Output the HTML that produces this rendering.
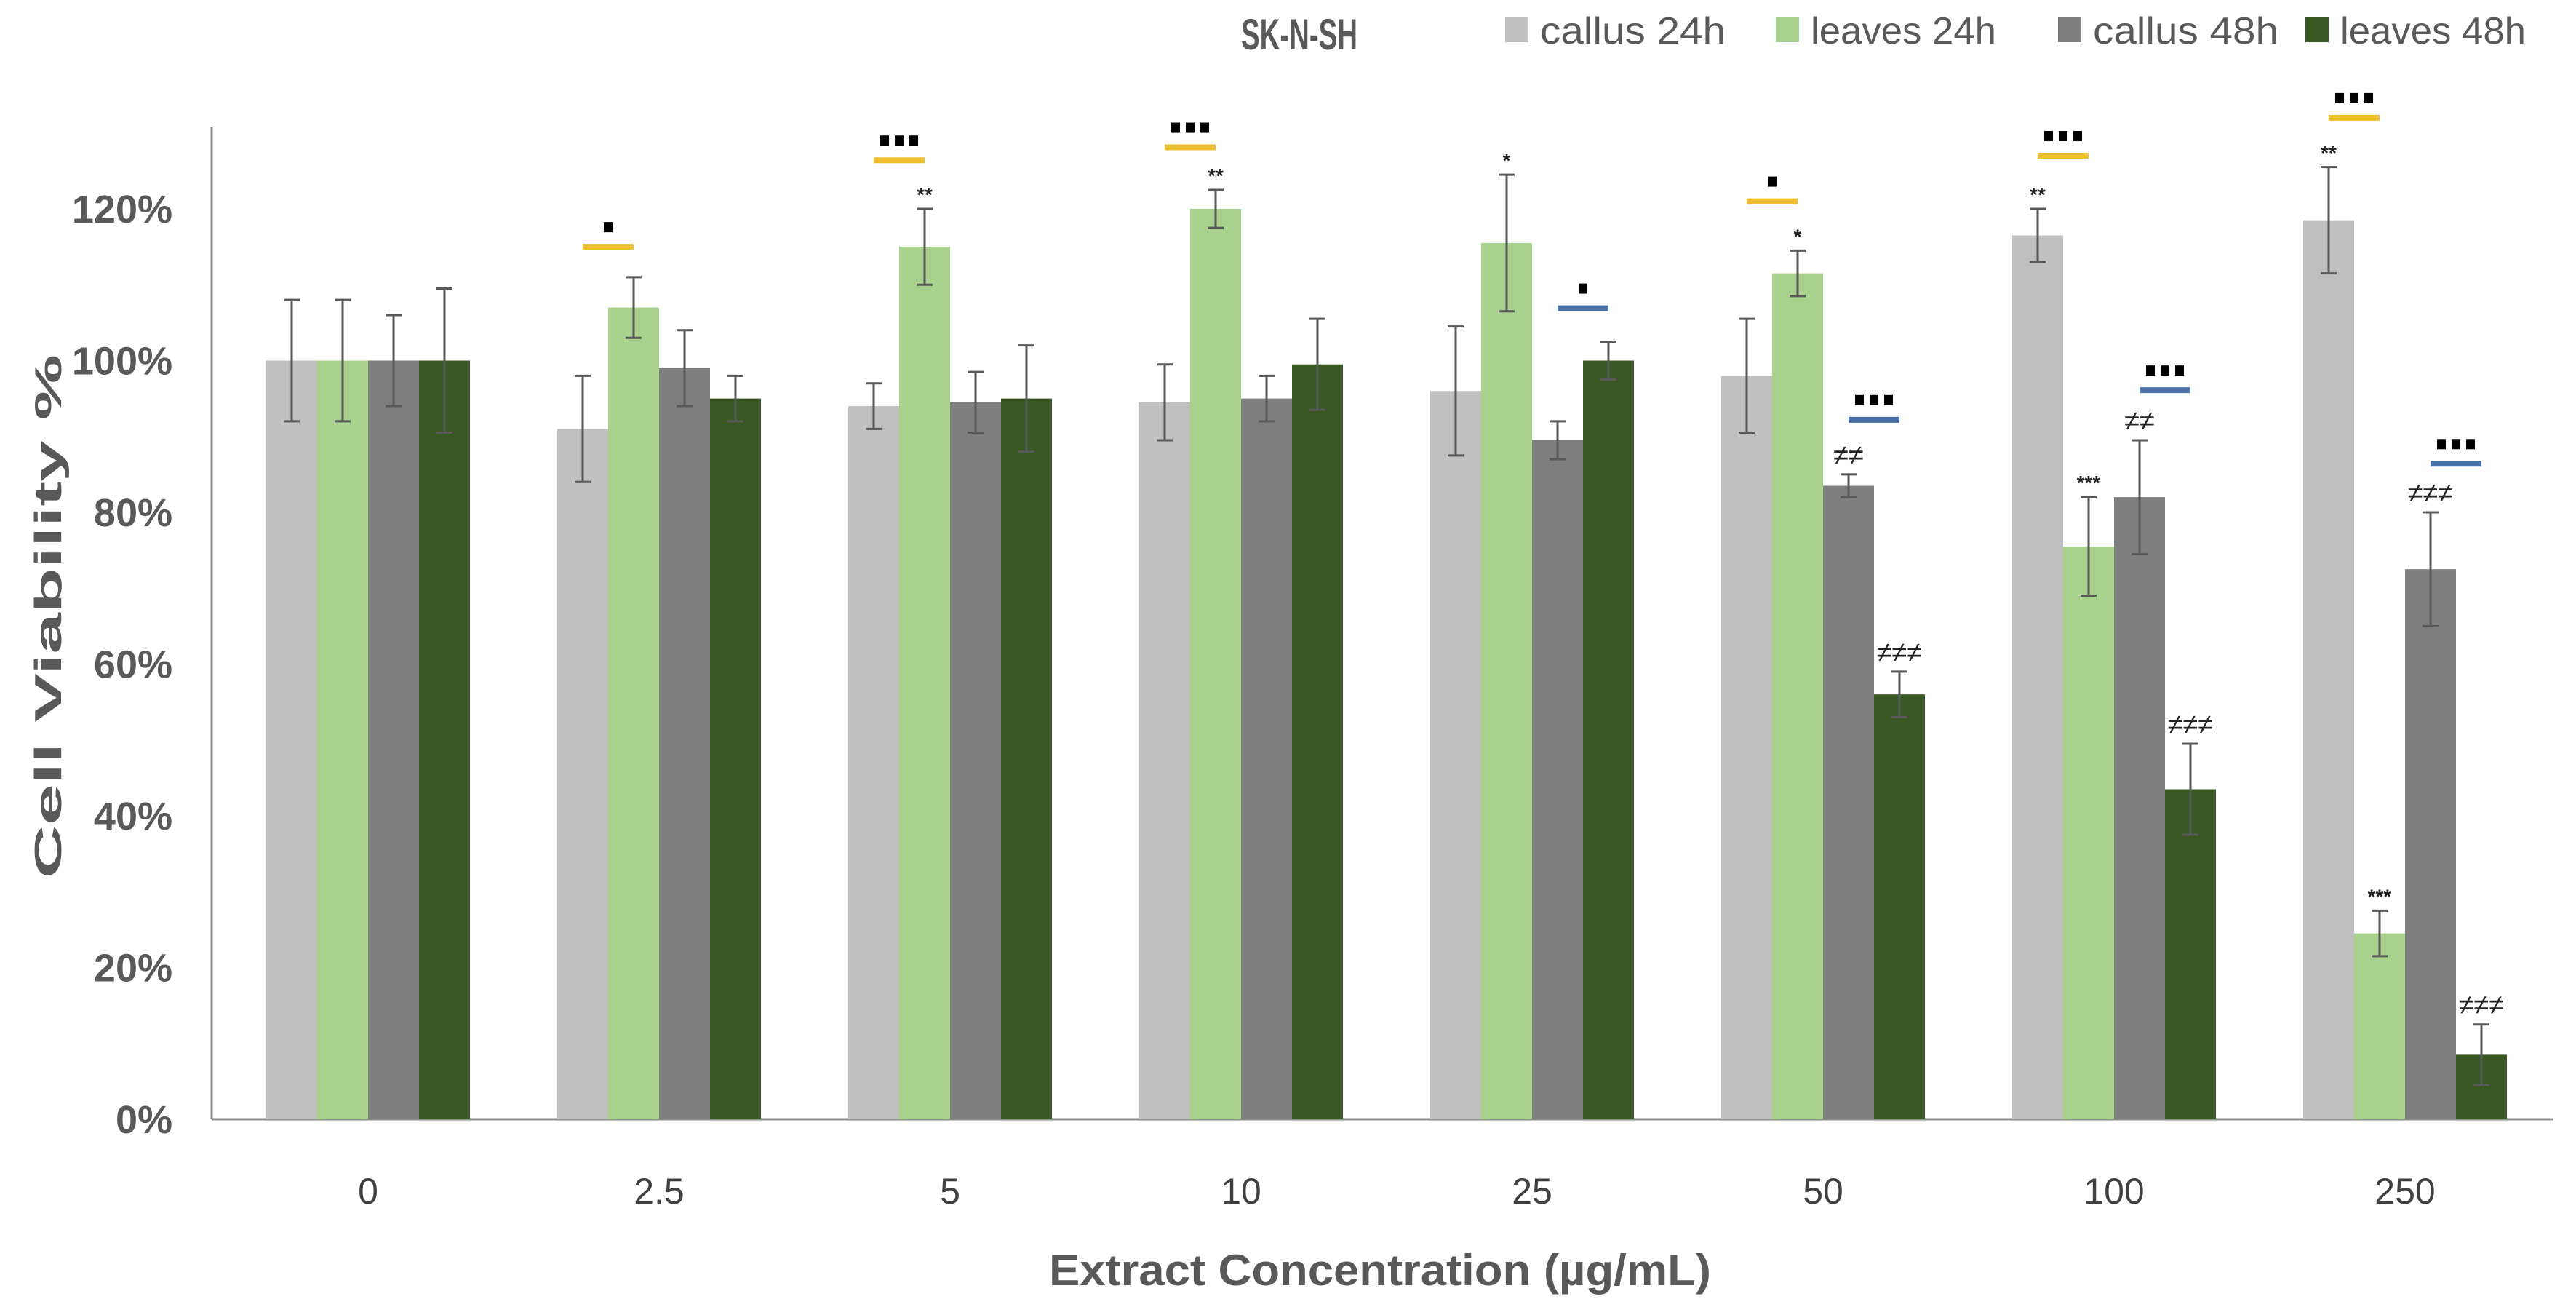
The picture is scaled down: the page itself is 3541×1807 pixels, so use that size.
<!DOCTYPE html>
<html><head><meta charset="utf-8"><style>
html,body{margin:0;padding:0;background:#fff}
svg{display:block}
text{font-family:"Liberation Sans",sans-serif}
</style></head><body>
<svg id="chart" width="3541" height="1807" viewBox="0 0 3541 1807" xmlns="http://www.w3.org/2000/svg"></svg>
<script>
const categories = ["0","2.5","5","10","25","50","100","250"];
const seriesNames = ["callus 24h","leaves 24h","callus 48h","leaves 48h"];
const callus24 = [100,91,94,94.5,96,98,116.5,118.5];
const leaves24 = [100,107,115,120,115.5,111.5,75.5,24.5];
const callus48 = [100,99,94.5,95,89.5,83.5,82,72.5];
const leaves48 = [100,95,95,99.5,100,56,43.5,8.5];
const callus24Err = [8,7,3,5,8.5,7.5,3.5,7];
const leaves24Err = [8,4,5,2.5,9,3,6.5,3];
const callus48Err = [6,5,4,3,2.5,1.5,7.5,7.5];
const leaves48Err = [9.5,3,7,6,2.5,3,6,4];
const callus24Marks = ["","","","","","","**","**"];
const leaves24Marks = ["","","**","**","*","*","***","***"];
const callus48Marks = ["","","","","","≠≠","≠≠","≠≠≠"];
const leaves48Marks = ["","","","","","≠≠≠","≠≠≠","≠≠≠"];
const yellowSigY = [null,115,126.4,128.1,null,121,127,132];
const yellowSigN = [0,1,3,3,0,1,3,3];
const blueSigY = [null,null,null,null,106.9,92.2,96.1,86.4];
const blueSigN = [0,0,0,0,1,3,3,3];
const yTicks = [0,20,40,60,80,100,120];

const colors = ["#bfbfbf","#a9d18e","#7f7f7f","#385723"];
const svg = document.getElementById('chart');
const NS = "http://www.w3.org/2000/svg";
function mk(tag, attrs, parent){const e=document.createElementNS(NS,tag);for(const k in attrs)e.setAttribute(k,attrs[k]);(parent||svg).appendChild(e);return e;}
const y0=1538, pxPer=10.425;
function yS(v){return y0 - v*pxPer;}
function xC(i){return 506 + i*400;}
const bw=70;
function xB(i,s){return xC(i) - 2*bw + s*bw;}

let e=mk('line',{x1:291,y1:175,x2:291,y2:y0,stroke:'#8c8c8c','stroke-width':3});

e=mk('line',{x1:291,y1:y0,x2:3510,y2:y0,stroke:'#8c8c8c','stroke-width':3});


yTicks.forEach(t=>{
  const tx=mk('text',{x:237,y:yS(t)+19,'text-anchor':'end','font-size':54,'font-weight':'bold',fill:'#595959'});
  tx.textContent=t+'%';
  
  
});
categories.forEach((c,i)=>{
  const tx=mk('text',{x:xC(i),y:1654,'text-anchor':'middle','font-size':50,fill:'#404040'});
  tx.textContent=c;
  
  
});
e=mk('text',{x:1897,y:1766,'text-anchor':'middle','font-size':60,'font-weight':'bold',fill:'#595959',textLength:910,lengthAdjust:'spacingAndGlyphs'});
e.textContent='Extract Concentration (µg/mL)';

e=mk('text',{x:0,y:0,transform:'translate(84,847) rotate(-90)','text-anchor':'middle','font-size':52,'font-weight':'bold',fill:'#595959',textLength:720,lengthAdjust:'spacingAndGlyphs'});
e.textContent='Cell Viability %';


const vals=[callus24,leaves24,callus48,leaves48];
const errs=[callus24Err,leaves24Err,callus48Err,leaves48Err];
const marks=[callus24Marks,leaves24Marks,callus48Marks,leaves48Marks];
const keys=['callus-24h','leaves-24h','callus-48h','leaves-48h'];
vals.forEach((arr,s)=>{
  arr.forEach((v,i)=>{
    const r=mk('rect',{x:xB(i,s),y:yS(v),width:bw,height:y0-yS(v),fill:colors[s]});
    
    
    const cx=xB(i,s)+bw/2, hi=yS(v+errs[s][i]), lo=yS(v-errs[s][i]);
    const g=mk('g',{stroke:'#595959','stroke-width':3});
    
    
    mk('line',{x1:cx,y1:hi,x2:cx,y2:lo},g);
    mk('line',{x1:cx-11,y1:hi,x2:cx+11,y2:hi},g);
    mk('line',{x1:cx-11,y1:lo,x2:cx+11,y2:lo},g);
    const m=marks[s][i];
    if(m){
      const isNe=m.indexOf('≠')>=0;
      const t=mk('text',{x:cx,y:hi-(isNe?14:10),'text-anchor':'middle','font-size':isNe?38:28,'font-weight':isNe?'normal':'bold',fill:'#222'});
      t.textContent=m;
      
      
    }
  });
});
function sig(arrY,arrN,s0,col,name){
  arrY.forEach((v,i)=>{
    if(v===null)return;
    const x1=xB(i,s0)+bw/2, x2=xB(i,s0+1)+bw/2;
    const g=mk('g',{});
    
    
    mk('line',{x1:x1,y1:yS(v),x2:x2,y2:yS(v),stroke:col,'stroke-width':8},g);
    const n=arrN[i], mid=(x1+x2)/2, sz=12, gap=8;
    const tot=n*sz+(n-1)*gap;
    for(let k=0;k<n;k++){
      mk('rect',{x:mid-tot/2+k*(sz+gap),y:yS(v)-34,width:sz,height:14,fill:'#000'},g);
    }
  });
}
sig(yellowSigY,yellowSigN,0,'#efc02e','significance-bar-24h');
sig(blueSigY,blueSigN,2,'#4a72a8','significance-bar-48h');

e=mk('text',{x:1706,y:68,'font-size':60,'font-weight':'bold',fill:'#595959',textLength:160,lengthAdjust:'spacingAndGlyphs'});
e.textContent='SK-N-SH';

const legX=[2069,2441,2829,3169];
seriesNames.forEach((n,s)=>{
  const g=mk('g',{});
  
  
  mk('rect',{x:legX[s],y:24,width:32,height:34,fill:colors[s]},g);
  const t=mk('text',{x:legX[s]+48,y:60,'font-size':52,fill:'#595959',textLength:n.length*25.5,lengthAdjust:'spacingAndGlyphs'},g);
  t.textContent=n;
});
</script>
</body></html>
